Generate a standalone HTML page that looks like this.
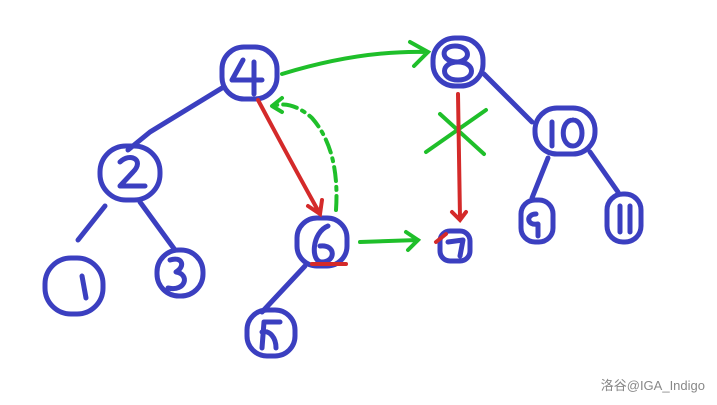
<!DOCTYPE html>
<html><head><meta charset="utf-8"><style>
html,body{margin:0;padding:0;background:#fff;width:717px;height:405px;overflow:hidden}
svg{display:block}
</style></head><body>
<svg width="717" height="405" viewBox="0 0 717 405" xmlns="http://www.w3.org/2000/svg">
<g fill="none" stroke="#3b3fc0" stroke-width="5" stroke-linecap="round" stroke-linejoin="round">
<rect x="222" y="47" width="55" height="52" rx="22"/>
<rect x="433" y="38" width="50" height="48" rx="22"/>
<rect x="100" y="146" width="60" height="54" rx="26"/>
<rect x="535" y="108" width="60" height="46" rx="22"/>
<rect x="45" y="258" width="58" height="56" rx="26"/>
<rect x="157" y="250" width="46" height="46" rx="22"/>
<rect x="297" y="218" width="50" height="48" rx="20"/>
<rect x="440" y="231" width="30" height="30" rx="10"/>
<rect x="521" y="200" width="32" height="42" rx="14"/>
<rect x="607" y="194" width="34" height="48" rx="16"/>
<rect x="247" y="310" width="48" height="46" rx="20"/>
<path d="M222 88 L150 132 L128 150"/>
<path d="M105 206 L78 240"/>
<path d="M140 202 L175 250"/>
<path d="M484 74 L532 122"/>
<path d="M548 158 L532 198"/>
<path d="M590 152 L618 192"/>
<path d="M305 266 L262 312"/>
<path d="M243 60 L232 80 L262 80 M254 62 L254 94"/>
<path d="M455 46 C440 46 440 62 458 62 C476 62 476 80 458 80 C440 80 440 62 458 62 C472 60 470 46 455 46"/>
<path d="M120 162 C130 152 145 160 133 172 L120 186 L145 186"/>
<path d="M552 122 L552 146 M573 120 C560 120 560 146 573 146 C585 146 585 120 573 120"/>
<path d="M82 276 L86 298"/>
<path d="M170 260 C182 256 186 266 176 272 C190 274 186 292 168 288"/>
<path d="M328 226 C312 232 310 262 322 262 C336 262 336 244 320 246"/>
<path d="M448 242 L463 240 L460 256"/>
<path d="M536 214 C526 214 526 226 538 224 L538 236"/>
<path d="M620 206 L620 232 M630 206 L630 232"/>
<path d="M280 322 L264 322 L262 348 M262 332 C270 330 276 338 276 348"/>
</g>
<g fill="none" stroke="#1fbf2a" stroke-width="4" stroke-linecap="round">
<path d="M282 74 Q360 50 428 52 M410 42 L428 52 L414 66"/>
<path d="M360 242 L418 240 M406 232 L418 240 L408 250"/>
<path d="M426 152 L486 110 M440 114 L484 154"/>
<path d="M336 210 Q340 150 312 118 Q292 100 272 106 M272 106 L282 98 M272 106 L282 112" stroke-dasharray="14 6 3 6"/>
</g>
<g fill="none" stroke="#d42a2a" stroke-width="4" stroke-linecap="round">
<path d="M258 100 Q290 160 320 214 M308 206 L320 214 L322 200"/>
<path d="M458 94 L460 218 M452 212 L460 220 L466 212"/>
<path d="M436 242 L446 234"/>
<path d="M312 264 L346 264"/>
</g>
<text x="705" y="390" text-anchor="end" font-family="Liberation Sans, Noto Sans CJK SC, sans-serif" font-size="13" fill="#888">洛谷@IGA_Indigo</text>
</svg>
</body></html>
